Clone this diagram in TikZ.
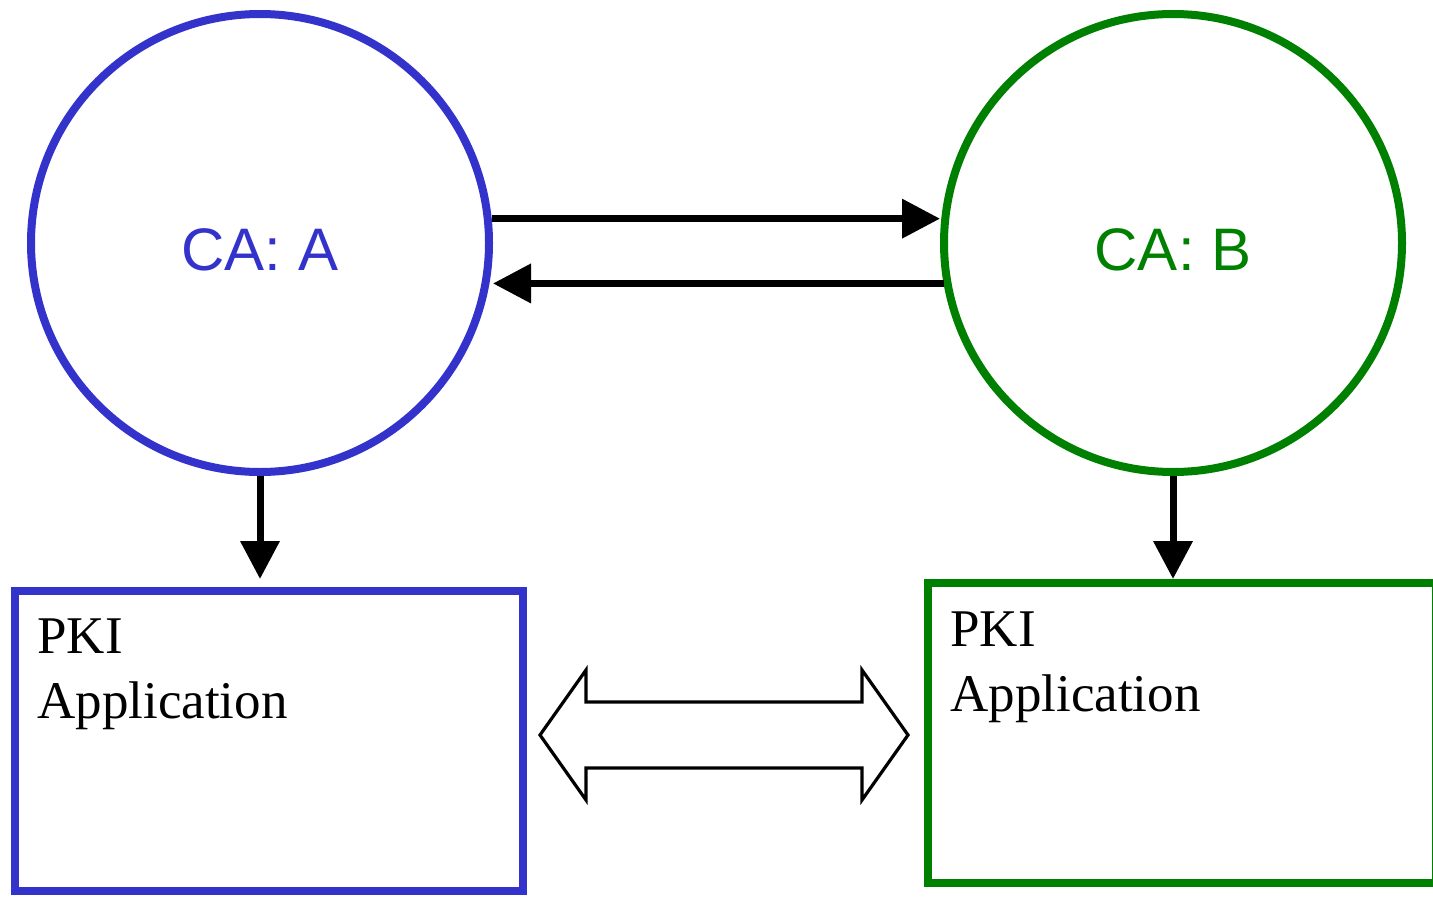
\documentclass[tikz,border=0pt]{standalone}
\usepackage{fontspec}
\setmainfont{Liberation Serif}
\newfontfamily\casans{Liberation Sans}
\definecolor{cablue}{RGB}{51,51,204}
\definecolor{cagreen}{RGB}{0,128,0}
\usetikzlibrary{arrows,positioning}
\usetikzlibrary{arrows.meta}

\begin{document}
\begin{tikzpicture}[x=0.5pt,y=0.5pt,yscale=-1,xscale=1,
	ca/.style={circle, line width=4pt, minimum size=229pt, inner sep=0pt, text height=27.5pt, text depth=0pt, font=\casans\fontsize{30}{36}\selectfont},
	app/.style={rectangle, line width=4pt, minimum width=254pt, minimum height=150pt, inner sep=0pt},
	apptext/.style={anchor=north west, inner sep=0pt, align=left, font=\fontsize{26.5}{32.5}\selectfont},
	link/.style={line width=3.5pt, -{Triangle[length=19pt,width=19pt]}}]
	\useasboundingbox (0,0) rectangle (1433,899);
	
	%Shape: Circle [id:caA] 
	\node [ca, draw=cablue, text=cablue] (caA) at (260,243) {CA: A};
	%Shape: Circle [id:caB] 
	\node [ca, draw=cagreen, text=cagreen] (caB) at (1173,243) {CA: B};
	
	%Shape: Rectangle [id:appA] 
	\node [app, draw=cablue] (appA) at (269,741) {};
	%Shape: Rectangle [id:appB] 
	\node [app, draw=cagreen] (appB) at (1182,733) {};
	
	%Straight Lines [id:caAtoB] 
	\draw [link] (caA.6.6) -- (caA.6.6 -| caB.west);
	%Straight Lines [id:caBtoA] 
	\draw [link] (caB.190.1) -- (caB.190.1 -| caA.east);
	%Straight Lines [id:caAdown] 
	\draw [link] (caA.south) -- (caA.south |- appB.north);
	%Straight Lines [id:caBdown] 
	\draw [link] (caB.south) -- (caB.south |- appB.north);
	
	%Shape: Left Right Arrow [id:crossapp] 
	\draw [line width=1.6pt, line join=miter, fill=white] (540,735) -- (586,670) -- (586,702) -- (862,702) -- (862,670) -- (908,735) -- (862,800) -- (862,768) -- (586,768) -- (586,800) -- cycle;
	
	% Text Node
	\node [apptext] (textA) at (37,618) {PKI\\Application};
	% Text Node
	\node [apptext] (textB) at (950,611) {PKI\\Application};
	
\end{tikzpicture}
\end{document}
